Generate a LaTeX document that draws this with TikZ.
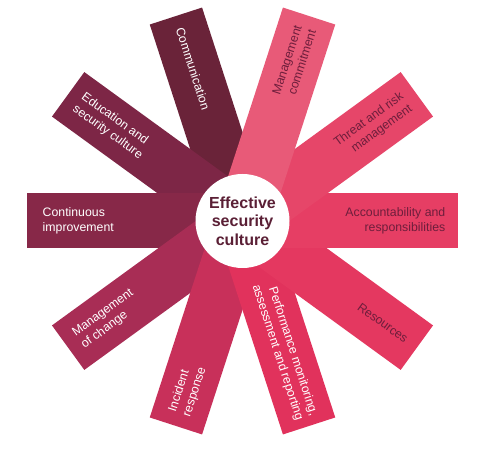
\documentclass[tikz,border=0pt]{standalone}
\usepackage{fontspec}
\setmainfont{Liberation Sans}
\definecolor{cComm}{HTML}{6A2339}
\definecolor{cEdu}{HTML}{7D2646}
\definecolor{cCont}{HTML}{872848}
\definecolor{cMoC}{HTML}{A82D55}
\definecolor{cInc}{HTML}{C8305A}
\definecolor{cPerf}{HTML}{E1325C}
\definecolor{cRes}{HTML}{E43860}
\definecolor{cAcc}{HTML}{E63E64}
\definecolor{cThr}{HTML}{E64669}
\definecolor{cMgt}{HTML}{E85A78}
\definecolor{txtdark}{HTML}{6E1E3C}
\definecolor{txtcenter}{HTML}{5A1F35}
\begin{document}
\begin{tikzpicture}[x=1pt,y=1pt,
  bar/.style={inner sep=0pt, outer sep=0pt, minimum width=215.5pt, minimum height=55pt, anchor=west},
  lbl/.style={inner sep=0pt, font=\fontsize{12.3}{15}\selectfont},
  rlbl/.style={lbl, anchor=east, align=right, text=txtdark},
  llbl/.style={lbl, anchor=west, align=left, text=white},
  hub/.style={circle, fill=white, inner sep=0pt, minimum size=94pt, align=center,
    text=txtcenter, font=\fontsize{16}{18.5}\selectfont\bfseries}]
\fill[white] (-242.5,-228) rectangle (246.5,221);
\useasboundingbox (-242.5,-228) rectangle (246.5,221);
% bars, drawn from bottom to top
\node[bar, fill=cComm, rotate=108] (bComm) at (0,0) {};
\node[bar, fill=cEdu,  rotate=144] (bEdu)  at (0,0) {};
\node[bar, fill=cCont, rotate=180] (bCont) at (0,0) {};
\node[bar, fill=cMoC,  rotate=216] (bMoC)  at (0,0) {};
\node[bar, fill=cInc,  rotate=252] (bInc)  at (0,0) {};
\node[bar, fill=cPerf, rotate=288] (bPerf) at (0,0) {};
\node[bar, fill=cRes,  rotate=324] (bRes)  at (0,0) {};
\node[bar, fill=cAcc,  rotate=0]   (bAcc)  at (0,0) {};
\node[bar, fill=cThr,  rotate=36]  (bThr)  at (0,0) {};
\node[bar, fill=cMgt,  rotate=72]  (bMgt)  at (0,0) {};
% labels
\node[rlbl, rotate=0]   (tAcc)  at (0:203)   {Accountability and\\responsibilities};
\node[rlbl, rotate=36]  (tThr)  at (36:203)  {Threat and risk\\management};
\node[rlbl, rotate=72]  (tMgt)  at (72:203)  {Management\\commitment};
\node[rlbl, rotate=-36] (tRes)  at (-36:203) {Resources};
\node[rlbl, rotate=-72, text=white] (tPerf) at (-72:207) {Performance monitoring,\\assessment and reporting};
\node[llbl, rotate=72]  (tInc)  at (-108:203) {Incident\\response};
\node[llbl, rotate=36]  (tMoC)  at (-144:203) {Management\\of change};
\node[llbl, rotate=0]   (tCont) at (180:200)  {Continuous\\improvement};
\node[llbl, rotate=-36] (tEdu)  at (144:203)  {Education and\\security culture};
\node[llbl, rotate=-72] (tComm) at (108:203)  {Communication};
% hub
\node[hub] (hub) at (0,0) {Effective\\security\\culture};
\end{tikzpicture}
\end{document}
